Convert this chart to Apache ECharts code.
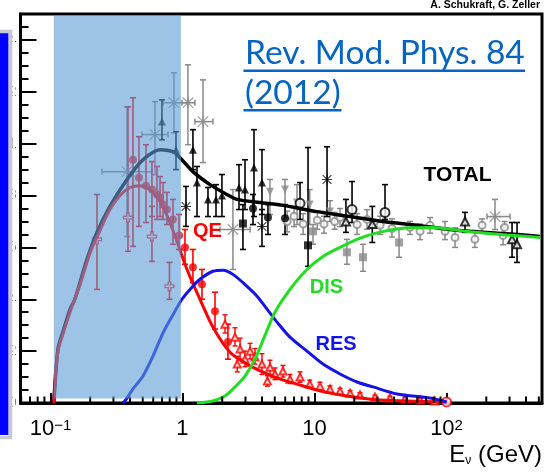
<!DOCTYPE html>
<html><head><meta charset="utf-8">
<script src="https://cdn.jsdelivr.net/npm/echarts@6/dist/echarts.min.js"></script>
<style>html,body{margin:0;padding:0;background:#fff}#c{width:548px;height:475px}</style>
</head><body><div id="c"></div>
<script>
// ---- curves (E in GeV, sigma/E in 1e-38 cm^2/GeV) ----
const totalE  = [0.106,0.114,0.124,0.141,0.153,0.189,0.225,0.282,0.38,0.502,0.676,0.847,0.957,1.2,1.615,2.17,2.59,3.86,5.77,10.4,18.6,33,59.8,106,189,342,511];
const totalXS = [0,0.208,0.273,0.362,0.40,0.554,0.658,0.758,0.862,0.938,0.977,0.969,0.946,0.892,0.842,0.804,0.785,0.773,0.762,0.738,0.719,0.70,0.685,0.669,0.658,0.65,0.642];
const qeE  = [0.106,0.114,0.1265,0.1405,0.167,0.199,0.237,0.282,0.336,0.40,0.4765,0.567,0.676,0.797,0.9245,1.0445,1.18,1.357,1.702,2.29,3.08,4.07,5.48,7.37,9.74,13.1,17.6,31.4,100];
const qeXS = [0,0.20,0.277,0.35,0.455,0.577,0.665,0.746,0.80,0.831,0.838,0.823,0.777,0.70,0.612,0.535,0.469,0.40,0.292,0.196,0.15,0.119,0.092,0.073,0.054,0.038,0.027,0.012,0.004];
const resE  = [0.354,0.367,0.4217,0.502,0.598,0.712,0.847,0.991,1.14,1.357,1.70,2.03,2.41,3.08,3.67,4.37,5.2,6.52,8.77,11.6,15.6,21,27.75,42.2,75,100];
const resXS = [0,0.008,0.054,0.104,0.181,0.27,0.34,0.40,0.438,0.477,0.508,0.512,0.496,0.45,0.412,0.362,0.312,0.254,0.2,0.15,0.112,0.081,0.062,0.035,0.019,0.004];
const disE  = [1.288,1.70,2.10,2.50,2.975,3.54,4.22,5.02,6.52,8.77,11.6,15.6,21,28.7,44.4,79,150.7,287,511];
const disXS = [0,0.008,0.027,0.062,0.104,0.169,0.262,0.35,0.438,0.515,0.565,0.60,0.631,0.654,0.673,0.677,0.66,0.648,0.638];

// ---- data points [E, value, low, high (, Elow, Ehigh)] ----
const blackTriangles = [[0.699,1.085,1.015,1.169],[0.893,0.977,0.90,1.046],[1.20,0.977,0.90,1.054],[1.288,0.85,0.719,0.912],[1.56,0.785,0.719,0.831],[1.794,0.785,0.719,0.842],[1.99,0.80,0.719,0.881],[2.68,0.831,0.746,0.919],[2.975,0.823,0.746,0.938],[3.48,0.908,0.719,1.054],[4.0,0.85,0.727,0.977]];
const blackCircles = [[3.42,0.75,0.688,0.804],[4.44,0.715,0.65,0.765],[5.98,0.712,0.65,0.765]];
const blackSquares = [[2.87,0.692,0.592,0.765],[8.93,0.608,0.527,0.985]];
const blackStars = [[1.063,0.758,0.681,0.835],[4.0,0.681,0.604,0.746],[12.44,0.862,0.719,0.988]];
const blackOpenCircles = [[7.77,0.77,0.708,0.85],[19.24,0.746,0.696,0.854],[34.2,0.735,0.708,0.842]];
const blackOpenTriangles = [[17.3,0.70,0.658,0.785],[27.4,0.69,0.619,0.758],[138,0.70,0.658,0.735],[313.5,0.631,0.562,0.696],[342,0.612,0.542,0.696]];
const grayTriangles = [[4.6,0.815,0.727,0.862],[5.98,0.823,0.708,0.862],[7.37,0.773,0.688,0.842],[9.2,0.765,0.688,0.823],[13.1,0.738,0.70,0.78]];
const graySquares = [[9.74,0.662,0.612,0.688],[17.6,0.581,0.535,0.631],[23.3,0.562,0.508,0.612],[43.7,0.619,0.562,0.669]];
const grayStars = [[0.38,0.892,0.642,1.142,0.2455,0.587],[0.619,1.035,0.88,1.162,0.494,0.777],[0.862,1.158,1.042,1.273,0.712,1.10],[1.10,1.158,0.996,1.304,0.991,1.243],[1.43,1.085,0.927,1.246,1.243,1.70],[2.41,0.669,0.515,0.823,1.925,3.25],[232.8,0.719,0.669,0.785,202.7,302.8]];
const grayOpen = [[6.2,0.70,0.66,0.74],[7.0,0.72,0.68,0.76],[8.2,0.69,0.65,0.73],[10.5,0.705,0.67,0.74],[11.8,0.69,0.655,0.72],[14.2,0.70,0.67,0.735],[15.6,0.715,0.68,0.75],[21,0.688,0.65,0.73],[25,0.708,0.67,0.745],[31.4,0.685,0.65,0.72],[38.6,0.673,0.64,0.71],[52.9,0.677,0.65,0.70],[63,0.662,0.63,0.69],[75,0.685,0.655,0.715],[97.4,0.662,0.63,0.70],[116,0.638,0.60,0.675],[164,0.631,0.60,0.665],[185.8,0.685,0.66,0.71],[268,0.646,0.61,0.68],[275,0.677,0.65,0.70]];
const qeCircles = [[0.4217,0.938,0.604,1.177],[0.468,0.869,0.681,1.027],[0.529,0.838,0.696,0.996],[0.587,0.823,0.719,0.931],[0.641,0.804,0.708,0.912],[0.676,0.792,0.719,0.873],[0.712,0.765,0.708,0.85],[0.763,0.746,0.688,0.812],[0.847,0.708,0.612,0.785],[0.941,0.646,0.592,0.727],[1.0445,0.60,0.535,0.669],[1.20,0.523,0.465,0.592],[1.405,0.458,0.40,0.515],[1.763,0.354,0.285,0.427],[2.21,0.235,0.169,0.304]];
const qeOpenCrosses = [[0.2251,0.631,0.438,0.804],[0.3865,0.715,0.585,1.142],[0.587,0.642,0.546,0.758],[0.797,0.45,0.40,0.542]];
const qeTriangles = [[2.10,0.304,0.27,0.34],[2.50,0.254,0.22,0.29],[2.73,0.208,0.17,0.25],[2.6,0.15,0.12,0.18],[2.975,0.169,0.14,0.20],[3.25,0.20,0.17,0.23],[3.54,0.177,0.15,0.21],[4.0,0.15,0.11,0.19],[4.4,0.085,0.065,0.105],[4.6,0.138,0.11,0.165],[5.02,0.112,0.09,0.135],[5.77,0.123,0.10,0.145],[6.52,0.092,0.075,0.11],[7.77,0.10,0.08,0.12],[9.2,0.073,0.058,0.088],[11,0.065,0.05,0.08],[13.1,0.054,0.042,0.066],[15.6,0.046,0.035,0.057],[18.6,0.038,0.028,0.048],[22.1,0.031,0.022,0.04],[28.7,0.023,0.016,0.03],[37.3,0.019,0.012,0.026],[48.5,0.015,0.009,0.021],[63,0.012,0.007,0.017],[81.6,0.008,0.004,0.012]];
const qeEndMarker = [[100,0.004]];

// ---- axes ----
const xMinorTicks = [0.06,0.07,0.08,0.09,0.2,0.3,0.4,0.5,0.6,0.7,0.8,0.9,2,3,4,5,6,7,8,9,20,30,40,50,60,70,80,90,200,300,400,500];
const xRange = [0.0593, 528.5];
const yRange = [0, 1.5];
const shadeBox = [[0.106, 0.017, 0.973, 1.494]];

const BLACK = '#000', GRAY = '#8a8a8a', RED = '#ff0000';
const ASTER = 'path://M9,0H11V20H9Z M0,9H20V11H0Z M2,0.6L19.4,18L18,19.4L0.6,2Z M18,0.6L19.4,2L2,19.4L0.6,18Z';
const PLUS = 'path://M7,0H13V7H20V13H13V20H7V13H0V7H7Z';

function errorBars(data, color, lw, cap, withX) {
  return {
    type: 'custom', data: data, z: 1, silent: true, encode: {x: 0, y: 1},
    renderItem: function (params, api) {
      const e = api.value(0), y = api.value(1);
      const a = api.coord([e, api.value(2)]), b = api.coord([e, api.value(3)]);
      const st = {stroke: color, lineWidth: lw};
      const ch = [
        {type: 'line', shape: {x1: a[0], y1: a[1], x2: b[0], y2: b[1]}, style: st},
        {type: 'line', shape: {x1: a[0] - cap, y1: a[1], x2: a[0] + cap, y2: a[1]}, style: st},
        {type: 'line', shape: {x1: b[0] - cap, y1: b[1], x2: b[0] + cap, y2: b[1]}, style: st}
      ];
      if (withX) {
        const l = api.coord([api.value(4), y]), r = api.coord([api.value(5), y]);
        ch.push({type: 'line', shape: {x1: l[0], y1: l[1], x2: r[0], y2: r[1]}, style: st});
        ch.push({type: 'line', shape: {x1: l[0], y1: l[1] - cap, x2: l[0], y2: l[1] + cap}, style: st});
        ch.push({type: 'line', shape: {x1: r[0], y1: r[1] - cap, x2: r[0], y2: r[1] + cap}, style: st});
      }
      return {type: 'group', children: ch};
    }
  };
}
function markers(data, symbol, size, color, extra) {
  return Object.assign({type: 'scatter', data: data.map(d => [d[0], d[1]]), symbol: symbol, symbolSize: size,
    itemStyle: {color: color}, z: 2, silent: true}, extra || {});
}
function curve(E, XS, color, w) {
  return {type: 'line', data: E.map((e, i) => [e, XS[i]]), showSymbol: false, symbol: 'none', smooth: 0.3,
    lineStyle: {color: color, width: w}, z: 4, silent: true};
}

const series = [
  errorBars(grayStars, GRAY, 1.5, 3, true),
  errorBars(grayTriangles, GRAY, 1.5, 3),
  errorBars(graySquares, GRAY, 1.5, 3),
  errorBars(grayOpen, GRAY, 1.5, 3),
  errorBars(blackTriangles, BLACK, 1.6, 3),
  errorBars(blackCircles, BLACK, 1.6, 3),
  errorBars(blackSquares, BLACK, 1.6, 3),
  errorBars(blackStars, BLACK, 1.6, 3),
  errorBars(blackOpenCircles, BLACK, 1.6, 3),
  errorBars(blackOpenTriangles, BLACK, 1.6, 3),
  errorBars(qeCircles, RED, 1.6, 3),
  errorBars(qeOpenCrosses, RED, 1.6, 3),
  errorBars(qeTriangles, RED, 1.4, 2.5),
  markers(grayStars, ASTER, 12, GRAY),
  markers(grayTriangles, 'triangle', 8, GRAY, {symbolRotate: 180}),
  markers(graySquares, 'rect', 8, GRAY),
  markers(grayOpen, 'emptyCircle', 7, GRAY, {itemStyle: {color: GRAY, borderWidth: 1.3}}),
  markers(blackTriangles, 'triangle', 8, BLACK),
  markers(blackCircles, 'circle', 8, BLACK),
  markers(blackSquares, 'rect', 8, BLACK),
  markers(blackStars, ASTER, 10, BLACK),
  markers(blackOpenCircles, 'emptyCircle', 9, BLACK, {itemStyle: {color: BLACK, borderWidth: 1.5}}),
  markers(blackOpenTriangles, 'emptyTriangle', 8, BLACK, {itemStyle: {color: BLACK, borderWidth: 1.3}}),
  markers(qeCircles, 'circle', 8, RED),
  markers(qeOpenCrosses, PLUS, 9, '#fff', {itemStyle: {color: '#fff', borderColor: RED, borderWidth: 1.3}}),
  markers(qeTriangles, 'emptyTriangle', 7, RED, {itemStyle: {color: RED, borderWidth: 1.2}}),
  markers(qeEndMarker, 'emptyCircle', 9, RED, {itemStyle: {color: RED, borderWidth: 1.3}}),
  curve(totalE, totalXS, '#000', 3.5),
  curve(qeE, qeXS, '#ff0000', 3),
  curve(resE, resXS, '#1414e6', 3),
  curve(disE, disXS, '#22dd22', 3),
  { // minor ticks of the log axis
    type: 'custom', data: xMinorTicks.map(v => [v, 0]), z: 5, silent: true, encode: {x: 0, y: 1},
    renderItem: function (params, api) {
      const c = api.coord([api.value(0), 0]);
      return {type: 'line', shape: {x1: c[0], y1: c[1], x2: c[0], y2: c[1] - 6.5}, style: {stroke: '#000', lineWidth: 2}};
    }
  },
  { // shaded 0.1-1 GeV band
    type: 'custom', data: shadeBox, z: 10, silent: true, encode: {x: [0, 2], y: [1, 3]},
    renderItem: function (params, api) {
      const p0 = api.coord([api.value(0), api.value(3)]), p1 = api.coord([api.value(2), api.value(1)]);
      return {type: 'rect', shape: {x: p0[0], y: p0[1], width: p1[0] - p0[0], height: p1[1] - p0[1]},
        style: {fill: 'rgba(91,155,213,0.6)'}};
    }
  }
];

function xLabel(v) {
  const e = Math.round(Math.log10(v));
  if (e === 0) return '{b|1}';
  if (e === 1) return '{b|10}';
  return '{b|10}{s|' + (e < 0 ? '\u2212' : '') + Math.abs(e) + '}';
}

const FONT = '"Liberation Sans", Arial, sans-serif';
const option = {
  animation: false,
  grid: {left: 20.5, right: 6, top: 14, bottom: 72, containLabel: false, outerBoundsMode: 'none',
         show: true, borderColor: '#000', borderWidth: 3},
  xAxis: {
    type: 'log', logBase: 10, min: xRange[0], max: xRange[1],
    axisLine: {onZero: false, lineStyle: {color: '#000', width: 3}},
    axisTick: {inside: true, length: 10, lineStyle: {color: '#000', width: 2}},
    splitLine: {show: false}, minorTick: {show: false},
    axisLabel: {showMinLabel: false, showMaxLabel: false, margin: 15, formatter: xLabel,
      rich: {b: {fontSize: 22, fontFamily: FONT, color: '#000'},
             s: {fontSize: 15, fontFamily: FONT, color: '#000', verticalAlign: 'top'}}},
    name: '{e|E}{v|\u03bd}{g| (GeV)}', nameLocation: 'end', nameGap: 0,
    nameTextStyle: {align: 'right', verticalAlign: 'top', padding: [40, 0, 0, 0],
      rich: {e: {fontSize: 24, fontFamily: FONT, color: '#000'},
             v: {fontSize: 12, fontFamily: FONT, color: '#000', verticalAlign: 'bottom'},
             g: {fontSize: 24, fontFamily: FONT, color: '#000'}}}
  },
  yAxis: [
    {type: 'value', min: yRange[0], max: yRange[1], interval: 0.05, position: 'left',
     axisLine: {show: true, lineStyle: {color: '#000', width: 3}},
     axisTick: {inside: true, length: 8, lineStyle: {color: '#000', width: 2}},
     axisLabel: {show: false}, splitLine: {show: false}},
    {type: 'value', min: yRange[0], max: yRange[1], interval: 0.2, position: 'left', offset: 0,
     axisLine: {show: false},
     axisTick: {inside: true, length: 16, lineStyle: {color: '#000', width: 2}},
     axisLabel: {margin: 4, showMaxLabel: false, fontSize: 14, fontFamily: FONT, color: '#000'},
     splitLine: {show: false}}
  ],
  series: series,
  graphic: [
    {type: 'rect', z: 99, shape: {x: 12.4, y: 16, width: 3, height: 400}, style: {fill: '#fff'}},
    {type: 'rect', z: 100, shape: {x: 0, y: 33, width: 8.5, height: 402}, style: {fill: '#0000ff'}},
    {type: 'rect', z: 100, shape: {x: -10, y: 31.5, width: 20.5, height: 406}, style: {fill: null, stroke: '#c6c8d6', lineWidth: 3.5}},
    {type: 'text', z: 100, x: 540, y: 5.5, style: {text: 'A. Schukraft, G. Zeller', fill: '#000',
      font: 'bold 10.5px ' + FONT, align: 'right', textAlign: 'right', verticalAlign: 'middle', textVerticalAlign: 'middle'}},
    {type: 'text', z: 100, x: 245, y: 53, style: {text: 'Rev. Mod. Phys. 84', fill: '#0563c1',
      font: '33.5px Lato, "Open Sans", sans-serif', align: 'left', textAlign: 'left', verticalAlign: 'middle', textVerticalAlign: 'middle'}},
    {type: 'text', z: 100, x: 245, y: 93, style: {text: '(2012)', fill: '#0563c1',
      font: '33.5px Lato, "Open Sans", sans-serif', align: 'left', textAlign: 'left', verticalAlign: 'middle', textVerticalAlign: 'middle'}},
    {type: 'line', z: 100, shape: {x1: 243.5, y1: 70.7, x2: 525, y2: 70.7}, style: {stroke: '#0563c1', lineWidth: 2.5}},
    {type: 'line', z: 100, shape: {x1: 243.5, y1: 110.3, x2: 341.5, y2: 110.3}, style: {stroke: '#0563c1', lineWidth: 2.5}},
    {type: 'text', z: 100, x: 457.5, y: 175, style: {text: 'TOTAL', fill: '#000', font: 'bold 21px ' + FONT,
      align: 'center', textAlign: 'center', verticalAlign: 'middle', textVerticalAlign: 'middle'}},
    {type: 'text', z: 100, x: 207.5, y: 231.5, style: {text: 'QE', fill: '#ff0000', font: 'bold 20px ' + FONT,
      align: 'center', textAlign: 'center', verticalAlign: 'middle', textVerticalAlign: 'middle'}},
    {type: 'text', z: 100, x: 326.5, y: 287.5, style: {text: 'DIS', fill: '#22dd22', font: 'bold 20px ' + FONT,
      align: 'center', textAlign: 'center', verticalAlign: 'middle', textVerticalAlign: 'middle'}},
    {type: 'text', z: 100, x: 336, y: 344.5, style: {text: 'RES', fill: '#1414e6', font: 'bold 20px ' + FONT,
      align: 'center', textAlign: 'center', verticalAlign: 'middle', textVerticalAlign: 'middle'}}
  ]
};
const chart = echarts.init(document.getElementById('c'), null, {renderer: 'canvas'});
chart.setOption(option);
</script></body></html>
